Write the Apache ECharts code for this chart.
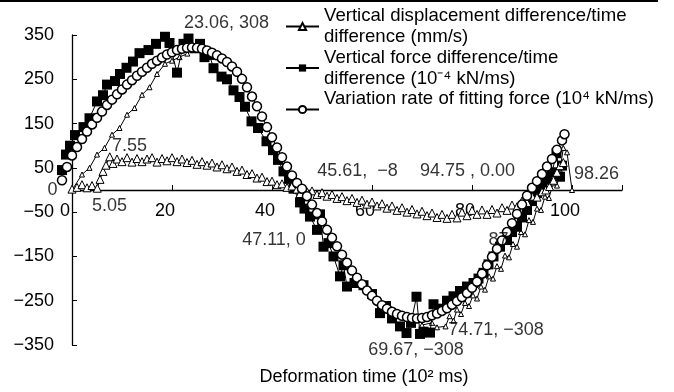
<!DOCTYPE html>
<html>
<head>
<meta charset="utf-8">
<script src="https://cdn.jsdelivr.net/npm/echarts@6/dist/echarts.min.js"></script>
<style>html,body{margin:0;padding:0;background:#fff}#c{width:674px;height:392px}</style>
</head>
<body>
<div id="c"></div>
<script>
// ---- data (time in 10^2 ms, value) ----
var seriesNames = [
  'Vertical displacement difference/time\ndifference (mm/s)',
  'Vertical force difference/time\ndifference (10\u207B\u2074 kN/ms)',
  'Variation rate of fitting force (10\u2074 kN/ms)'
];
var xTickLabels = [0, 20, 40, 60, 80, 100];
var yTickLabels = [-350, -250, -150, -50, 0, 50, 150, 250, 350];

var displacementPoints = [
  [0,2],[1,6],[2,12],[3,5],[4,10],[5.05,4],[5.6,24],[6.2,42],[6.8,56],[7.55,75],[8.2,60],[9,70],[10,64],
  [11,73],[12,63],[13,71],[14,64],[15,70],[16,73],[17,63],[18,71],[19,66],[20,73],[21,64],[22,70],
  [23,62],[24,67],[25,58],[26,64],[27,56],[28,61],[29,52],[30,57],[31,48],[32,52],[33,42],[34,45],
  [35,35],[36,37],[37,27],[38,29],[39,19],[40,20],[41,12],[42,14],[43,6],[44,9],[45,2],[45.61,-8],
  [46,3],[47,-4],[48,-2],[49,-10],[50,-6],[51,-14],[52,-10],[53,-19],[54,-15],[55,-24],[56,-19],
  [57,-28],[58,-23],[59,-32],[60,-27],[61,-36],[62,-31],[63,-41],[64,-36],[65,-46],[66,-40],[67,-50],
  [68,-44],[69,-54],[70,-48],[71,-58],[72,-52],[73,-62],[74,-55],[75,-64],[76,-55],[77,-63],[78,-50],
  [79,-58],[80,-46],[81,-55],[82,-45],[83,-55],[84,-44],[85,-52],[86,-40],[87,-46],[88,-34],[89,-38],
  [90,-25],[91,-28],[92,-14],[93,-16],[94,-4],[94.75,0],[95.5,8],[96.3,22],[97,40],[97.6,55],[98.26,62]
];

var forcePoints = [
  [-2,45],[-1.2,80],[-0.4,100],[0.6,124],[2.3,142],[3.5,162],[5,200],[6.2,214],[7,238],[8.6,246],
  [9.6,262],[10.9,276],[12.2,290],[13.5,309],[15.3,316],[16.8,330],[18.6,346],[19.5,332],[21,265],
  [22.3,330],[23.3,342],[24.5,320],[25.6,330],[26.5,300],[27.5,305],[28.3,275],[29.9,256],[31,250],
  [32.3,225],[33.5,210],[34.6,188],[35.9,155],[37.2,140],[38.9,110],[40.2,90],[41.2,68],[42.3,42],
  [43.4,25],[44.3,3],[45.6,-28],[46.5,-42],[47.6,-60],[49,-90],[49.6,-55],[50.3,-128],[51.3,-120],
  [52.3,-150],[53.6,-195],[54.3,-170],[55,-218],[56.5,-210],[58.3,-215],[60,-235],[61.6,-278],
  [62.8,-262],[64,-290],[65.6,-308],[66.9,-323],[67.8,-300],[68.9,-241],[69.6,-325],[70.3,-320],
  [71.6,-322],[72.3,-258],[73.6,-268],[75,-250],[76.3,-240],[77.6,-228],[79,-218],[80.3,-210],
  [81.3,-200],[82.3,-187],[83.3,-168],[84.3,-150],[85.6,-128],[87,-113],[88,-95],[89,-83],[90,-62],
  [91,-45],[92,-25],[93,-7],[94,8],[95,23],[96,40],[96.9,83],[97.6,30],[98,55]
];

var fitPoints = [
  [-2,22],[-1,52],[0,78],[1,97],[2,115],[3,132],[4,148],[5,163],[6,177],[7,192],[8,204],[9,216],
  [10,227],[11,238],[12,248],[13,258],[14,267],[15,276],[16,285],[17,292],[18,299],[19,306],[20,311],
  [21,316],[22,319],[23,321],[24,322],[25,321],[26,319],[27,315],[28,310],[29,304],[30,297],[31,289],
  [32,279],[33,267],[34,251],[35,232],[36,211],[37,189],[38,166],[39,142],[40,119],[41,96],[42,74],
  [43,53],[44,33],[45,16],[46,3],[47,-14],[48,-33],[49,-52],[50,-71],[51,-90],[52,-108],[53,-127],
  [54,-146],[55,-164],[56,-182],[57,-198],[58,-213],[59,-227],[60,-239],[61,-250],[62,-260],[63,-268],
  [64,-275],[65,-280],[66,-284],[67,-287],[68,-289],[69,-290],[70,-289],[71,-287],[72,-283],[73,-279],
  [74,-273],[75,-267],[76,-259],[77,-251],[78,-242],[79,-233],[80,-221],[81,-207],[82,-189],[83,-170],
  [84,-151],[85,-133],[86,-114],[87,-95],[88,-75],[89,-54],[90,-33],[91,-13],[92,5],[93,20],[94,36],
  [95,53],[96,70],[97,91],[98,112],[98.5,126]
];

var lagRisePoints = [
  [0,0],[2,35],[3.5,50],[5,80],[6.5,95],[8,125],[9.5,140],[11,170],[12.5,185],[14,215],[15.5,232],
  [17,262],[18.6,285],[20,292],[21.5,300],[23.06,308]
];
var lagReturnPoints = [
  [70,-305],[72,-300],[73,-310],[74.71,-308],[75.5,-285],[76.3,-295],[77,-270],[77.8,-280],[78.6,-255],
  [79.4,-262],[80.2,-238],[81,-245],[81.8,-218],[82.6,-225],[83.4,-195],[84.2,-200],[85,-172],[85.8,-178],
  [86.6,-148],[87.4,-152],[88.2,-122],[89,-128],[89.8,-95],[90.6,-100],[91.4,-68],[92.2,-72],[93,-42],
  [93.8,-45],[94.6,-15],[95.4,-18],[96.2,15],[97,10],[97.6,45],[98.26,95],[99,85],[100,0]
];

// annotation texts and where they sit (data coords of text centre)
var annotationTexts = ['23.06, 308','7.55','5.05','45.61,  \u22128','94.75 , 0.00','98.26','47.11, 0','74.71, \u2212308','69.67, \u2212308','87','0'];
var annotationAt = [[30.9,376],[11.5,100],[7.5,-36],[57.1,42],[79.1,42],[104.9,36],[40.4,-114],[84.8,-317],[68.8,-362],[85.3,-114],[-3.9,0]];

// ---- chart ----
var FONT = '"Liberation Sans", Arial, Helvetica, sans-serif';
var chart = echarts.init(document.getElementById('c'), null, {renderer: 'canvas'});
var lineStyle = {color: '#000', width: 1};
var annData = annotationAt.map(function (p, i) { return [p[0], p[1], annotationTexts[i]]; });

chart.setOption({
  animation: false,
  backgroundColor: '#fff',
  textStyle: {fontFamily: FONT, color: '#000'},
  grid: {left: 72, right: 52, top: 35, bottom: 47, containLabel: false, outerBoundsMode: 'none'},
  legend: {
    data: seriesNames,
    orient: 'vertical',
    left: 285, top: -5,
    padding: 0,
    itemWidth: 33, itemHeight: 9, itemGap: -21.5,
    formatter: function (n) { return n === seriesNames[2] ? n + '\n ' : n; },
    textStyle: {fontFamily: FONT, fontSize: 18.6, lineHeight: 21, color: '#000', padding: [21, 0, 0, 0]}
  },
  xAxis: {
    type: 'value', min: 0, max: 110, interval: 20,
    position: 'bottom', offset: -155,
    name: 'Deformation time (10\u00B2 ms)', nameLocation: 'middle', nameGap: 178,
    nameTextStyle: {fontFamily: FONT, fontSize: 18, color: '#000', padding: [0, 0, 0, 34]},
    axisLine: {onZero: false, lineStyle: {color: '#000', width: 1.3}},
    axisTick: {inside: true, length: 5, lineStyle: {color: '#000'}},
    axisLabel: {margin: 12, fontFamily: FONT, fontSize: 18, color: '#000', padding: [0, 14, 0, 0],
      formatter: function (v) { return xTickLabels.indexOf(v) >= 0 ? String(v) : ''; }},
    splitLine: {show: false}
  },
  yAxis: {
    type: 'value', min: -350, max: 350, interval: 100,
    axisLine: {show: true, onZero: false, lineStyle: {color: '#000', width: 1.3}},
    axisTick: {inside: true, length: 5, lineStyle: {color: '#000'}},
    axisLabel: {margin: 18, fontFamily: FONT, fontSize: 18, color: '#000',
      formatter: function (v) { return yTickLabels.indexOf(v) >= 0 ? String(v).replace('-', '\u2212') : ''; }},
    splitLine: {show: false}
  },
  series: [
    {name: 'lagRise', type: 'line', data: lagRisePoints, symbol: 'triangle', symbolSize: 5, showAllSymbol: true,
     lineStyle: lineStyle, itemStyle: {color: '#fff', borderColor: '#000', borderWidth: 1}, clip: false, z: 2},
    {name: 'lagReturn', type: 'line', data: lagReturnPoints, symbol: 'triangle', symbolSize: 5, showAllSymbol: true,
     lineStyle: lineStyle, itemStyle: {color: '#fff', borderColor: '#000', borderWidth: 1}, clip: false, z: 2},
    {name: seriesNames[1], type: 'line', data: forcePoints, symbol: 'rect', symbolSize: 10, showAllSymbol: true,
     lineStyle: lineStyle, itemStyle: {color: '#000', borderColor: '#000', borderWidth: 0}, clip: false, z: 3},
    {name: seriesNames[0], type: 'line', data: displacementPoints, symbol: 'triangle', symbolSize: 8, showAllSymbol: true,
     lineStyle: lineStyle, itemStyle: {color: '#fff', borderColor: '#000', borderWidth: 1}, clip: false, z: 4},
    {name: seriesNames[2], type: 'line', data: fitPoints, symbol: 'circle', symbolSize: 9, showAllSymbol: true,
     lineStyle: lineStyle, itemStyle: {color: '#fff', borderColor: '#000', borderWidth: 1.5}, clip: false, z: 5},
    {name: 'annotations', type: 'scatter', data: annData, symbolSize: 1, silent: true, clip: false, z: 6,
     itemStyle: {color: 'rgba(0,0,0,0)'},
     label: {show: true, position: 'inside', formatter: function (p) { return p.value[2]; },
       fontFamily: FONT, fontSize: 18, color: '#000'}}
  ],
  graphic: [
    {type: 'line', shape: {x1: 0, y1: 1, x2: 658, y2: 1}, style: {stroke: '#000', lineWidth: 2}, silent: true}
  ]
});
</script>
</body>
</html>
